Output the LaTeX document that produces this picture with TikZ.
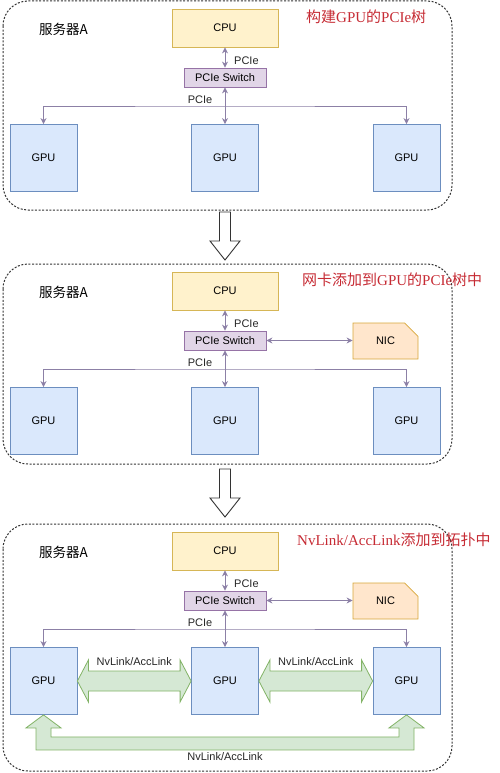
\documentclass[tikz,border=0pt]{standalone}
\usepackage{fontspec}
\setmainfont{Liberation Sans}
\newfontfamily\cjk{Noto Sans CJK SC}
\newfontfamily\titlerm{Liberation Serif}
\usetikzlibrary{calc,arrows.meta,shapes.misc}

\definecolor{cpufill}{HTML}{FFF2CC}
\definecolor{cpuline}{HTML}{D6B656}
\definecolor{swfill}{HTML}{E1D5E7}
\definecolor{swline}{HTML}{9673A6}
\definecolor{gpufill}{HTML}{DAE8FC}
\definecolor{gpuline}{HTML}{6C8EBF}
\definecolor{nicfill}{HTML}{FFE6CC}
\definecolor{nicline}{HTML}{D7A73A}
\definecolor{nvfill}{HTML}{D5E8D4}
\definecolor{nvline}{HTML}{82B366}
\definecolor{linkc}{HTML}{8C80A6}
\definecolor{ttlred}{HTML}{C62B34}

\newcommand\tA{{\cjk 构建}{\titlerm GPU}{\cjk 的}{\titlerm PCIe}{\cjk 树}}
\newcommand\tB{{\cjk 网卡添加到}{\titlerm GPU}{\cjk 的}{\titlerm PCIe}{\cjk 树中}}
\newcommand\tC{{\titlerm NvLink/AccLink}{\cjk 添加到拓扑中}}

\tikzset{
  box/.style={draw, line width=0.8pt, inner sep=0pt, font=\fontsize{11}{13}\selectfont},
  cpubox/.style={box, fill=cpufill, draw=cpuline, minimum width=106pt, minimum height=38pt},
  swbox/.style={box, fill=swfill, draw=swline, minimum width=82pt, minimum height=19pt},
  gpubox/.style={box, fill=gpufill, draw=gpuline, minimum width=67pt, minimum height=67pt},
  nicbox/.style={box, fill=nicfill, draw=nicline, chamfered rectangle,
    chamfered rectangle corners=north east, chamfered rectangle xsep=14pt,
    chamfered rectangle ysep=13pt, minimum width=65pt, minimum height=36pt},
  lbl/.style={inner sep=0pt, font=\fontsize{11}{13}\selectfont, text=black!85},
  srv/.style={inner sep=0pt, font=\cjk\fontsize{13.5}{15}\selectfont},
  ttl/.style={inner sep=0pt, text=ttlred, font=\fontsize{15}{17}\selectfont},
  panel/.style={draw=black!80, line width=1pt, dash pattern=on 2pt off 1.6pt, rounded corners=25pt},
  pcie/.style={draw=linkc, line width=0.9pt},
  nvarrow/.style={fill=nvfill, draw=nvline, line width=0.8pt},
  hollow/.style={fill=white, draw=black!80, line width=0.9pt, line join=miter}
}

\begin{document}
\begin{tikzpicture}[x=1pt, y=-1pt, >={Stealth[length=6pt,width=6pt]}]
\useasboundingbox (0,0) rectangle (499,773);

% the three copies of server A
\foreach \p/\dy/\yb/\tx/\ttltext in {1/0/210/306/\tA, 2/263/464/302/\tB, 3/523/771/297/\tC}
{
  \draw[panel] (3,\dy+1) rectangle (452,\yb);
  \node[srv, anchor=west] (srv\p) at (39,29+\dy) {服务器A};
  \node[ttl, anchor=west] (ttl\p) at (\tx,17+\dy) {\ttltext};
  \node[cpubox] (cpu\p) at (225,28+\dy) {CPU};
  \node[swbox] (sw\p) at (225,77.5+\dy) {PCIe Switch};
  \node[gpubox] (ga\p) at (43.5,158+\dy) {GPU};
  \node[gpubox] (gb\p) at (225,158+\dy) {GPU};
  \node[gpubox] (gc\p) at (406.5,158+\dy) {GPU};
  \node[lbl, anchor=west] (pa\p) at (234,61+\dy) {PCIe};
  \node[lbl] (pb\p) at (200,100+\dy) {PCIe};
  \coordinate (h\p) at (225,106+\dy);
  \draw[pcie,<->] (cpu\p) -- (sw\p);
  \draw[pcie,<->] (sw\p) -- (gb\p);
  \draw[pcie,<->] (ga\p.north) |- (h\p) -| (gc\p.north);
}

% NIC
\foreach \p/\dy in {2/263, 3/523}
{
  \node[nicbox] (nic\p) at (385.5,78+\dy) {NIC};
  \draw[pcie,<->] (sw\p.east) -- (sw\p.east -| nic\p.west);
}

% NvLink
\draw[nvarrow] (ga3.east) -- ++(11,-21) -- ++(0,11) -- ($(gb3.west)+(-11,-10)$) -- ++(0,-11)
  -- (gb3.west) -- ++(-11,21) -- ++(0,-11) -- ($(ga3.east)+(11,10)$) -- ++(0,11) -- cycle;
\draw[nvarrow] (gb3.east) -- ++(11,-21) -- ++(0,11) -- ($(gc3.west)+(-11,-10)$) -- ++(0,-11)
  -- (gc3.west) -- ++(-11,21) -- ++(0,-11) -- ($(gb3.east)+(11,10)$) -- ++(0,11) -- cycle;
\draw[nvarrow] (ga3.south) -- ++(17.5,13) -- ++(-10,0) -- ++(0,9) -| ($(gc3.south)+(-7.5,13)$)
  -- ++(-10,0) -- (gc3.south) -- ++(17.5,13) -- ++(-10,0) |- ($(ga3.south)+(-7.5,35)$)
  -- ++(0,-22) -- ++(-10,0) -- cycle;
\node[lbl] (nl1) at ($(ga3.east)!0.5!(gb3.west)+(0,-19)$) {NvLink/AccLink};
\node[lbl] (nl2) at ($(gb3.east)!0.5!(gc3.west)+(0,-19)$) {NvLink/AccLink};
\node[lbl] (nl3) at ($(ga3.south)!0.5!(gc3.south)+(0,42)$) {NvLink/AccLink};

% steps
\foreach \y in {212,469}
  \draw[hollow] (219.5,\y) -- (230.5,\y) -- (230.5,\y+29) -- (240,\y+29) -- (225,\y+48)
    -- (210,\y+29) -- (219.5,\y+29) -- cycle;

\end{tikzpicture}
\end{document}
